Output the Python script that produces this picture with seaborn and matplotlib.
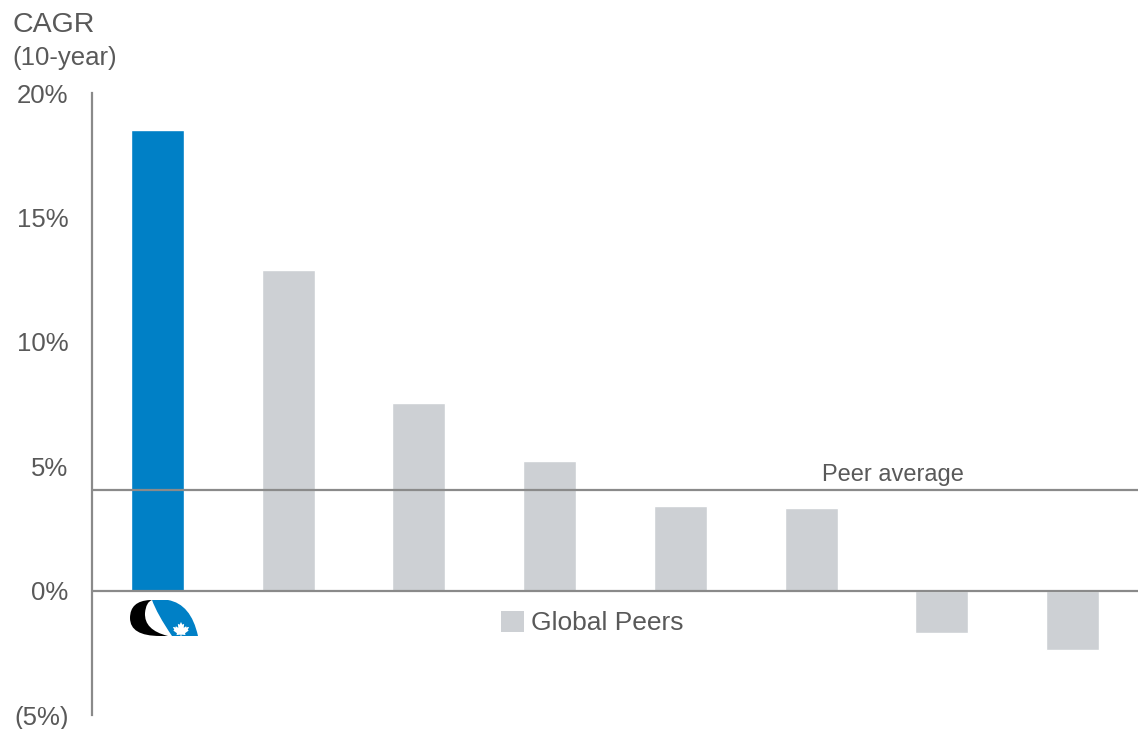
import matplotlib
matplotlib.use("Agg")
import matplotlib.pyplot as plt
from matplotlib.patches import Patch, PathPatch, Polygon
from matplotlib.path import Path
import seaborn as sns
import pandas as pd

# data
companies = ["Company", "Peer 1", "Peer 2", "Peer 3", "Peer 4", "Peer 5", "Peer 6", "Peer 7"]
cagr = [18.5, 12.9, 7.55, 5.2, 3.4, 3.3, -1.7, -2.4]
bar_colors = ["#0080C6"] + ["#CDD0D4"] * 7
peer_average = 4.05
tick_values = [-5, 0, 5, 10, 15, 20]
tick_labels = ["(5%)", "0%", "5%", "10%", "15%", "20%"]

TEXT = "#595959"
LINE = "#8A8A8A"
W, H = 1138, 729

sns.set_theme(style="white")
plt.rcParams["font.family"] = ["Liberation Sans", "DejaVu Sans"]

df = pd.DataFrame({"company": companies, "cagr": cagr})

fig = plt.figure(figsize=(W / 100, H / 100), dpi=100)
ax = fig.add_axes([92 / W, 1 - 715 / H, 1 - 92 / W, (715 - 93) / H])

sns.barplot(data=df, x="company", y="cagr", hue="company", palette=bar_colors,
            width=0.405, legend=False, ax=ax, saturation=1)

ax.set_xlim(-0.5, 7.5)
ax.set_ylim(-5, 20)
ax.axhline(0, color=LINE, lw=1.6, zorder=3)
ax.axhline(peer_average, color=LINE, lw=1.6, zorder=3)
ax.text(5.08, peer_average + 0.37, "Peer average", fontsize=17, color=TEXT, va="baseline")

ax.set_yticks(tick_values)
ax.set_yticklabels(tick_labels, fontsize=18.5, color=TEXT)
ax.tick_params(axis="y", length=0, pad=17)
ax.set_xticks([])
ax.set_xlabel("")
ax.set_ylabel("")
for side in ["top", "right", "bottom"]:
    ax.spines[side].set_visible(False)
ax.spines["left"].set_color(LINE)
ax.spines["left"].set_linewidth(1.6)

fig.text(12 / W, 1 - 32 / H, "CAGR", fontsize=20.5, color=TEXT, va="baseline")
fig.text(12 / W, 1 - 65 / H, "(10-year)", fontsize=18.5, color=TEXT, va="baseline")

ax.legend(handles=[Patch(facecolor="#CDD0D4", edgecolor="none", label="Global Peers")],
          loc="center left", bbox_to_anchor=(501 / W, 1 - 623 / H),
          bbox_transform=fig.transFigure, frameon=False, fontsize=19,
          handlelength=0.87, handleheight=0.87, handletextpad=0.27,
          borderpad=0, borderaxespad=0, labelcolor=TEXT)

# logo under the first bar, drawn in pixel coordinates
lg = fig.add_axes([125 / W, 1 - 640 / H, 80 / W, 45 / H])
lg.set_xlim(125, 205)
lg.set_ylim(640, 595)
lg.axis("off")
black = Path([(150, 600), (130, 601), (130, 618), (130, 636), (160, 636),
              (168, 636), (144, 630), (145, 613), (146, 602), (152, 600), (150, 600)],
             [Path.MOVETO, Path.CURVE3, Path.CURVE3, Path.CURVE3, Path.CURVE3,
              Path.LINETO, Path.CURVE3, Path.CURVE3, Path.CURVE3, Path.CURVE3, Path.CLOSEPOLY])
lg.add_patch(PathPatch(black, facecolor="black", edgecolor="none"))
blue = Path([(152, 600), (168, 600), (191, 604), (198, 636), (172, 636),
             (157, 614), (152, 600), (152, 600)],
            [Path.MOVETO, Path.LINETO, Path.CURVE3, Path.CURVE3, Path.LINETO,
             Path.CURVE3, Path.CURVE3, Path.CLOSEPOLY])
lg.add_patch(PathPatch(blue, facecolor="#0080C6", edgecolor="none"))
leaf = [(0, 1), (0.15, 0.7), (0.35, 0.8), (0.3, 0.35), (0.6, 0.55), (0.55, 0.4),
        (0.9, 0.45), (0.75, 0.15), (0.85, 0.05), (0.45, -0.25), (0.5, -0.45),
        (0.05, -0.4), (0.05, -0.9), (-0.05, -0.9), (-0.05, -0.4), (-0.5, -0.45),
        (-0.45, -0.25), (-0.85, 0.05), (-0.75, 0.15), (-0.9, 0.45), (-0.55, 0.4),
        (-0.6, 0.55), (-0.3, 0.35), (-0.35, 0.8), (-0.15, 0.7)]
leaf_xy = [(181 + 9 * x, 631 - 9 * y) for x, y in leaf]
lg.add_patch(Polygon(leaf_xy, closed=True, facecolor="white", edgecolor="none"))
lg.add_patch(plt.Rectangle((125, 636), 80, 5, facecolor="white", edgecolor="none"))

fig.savefig("out.png", dpi=100)
